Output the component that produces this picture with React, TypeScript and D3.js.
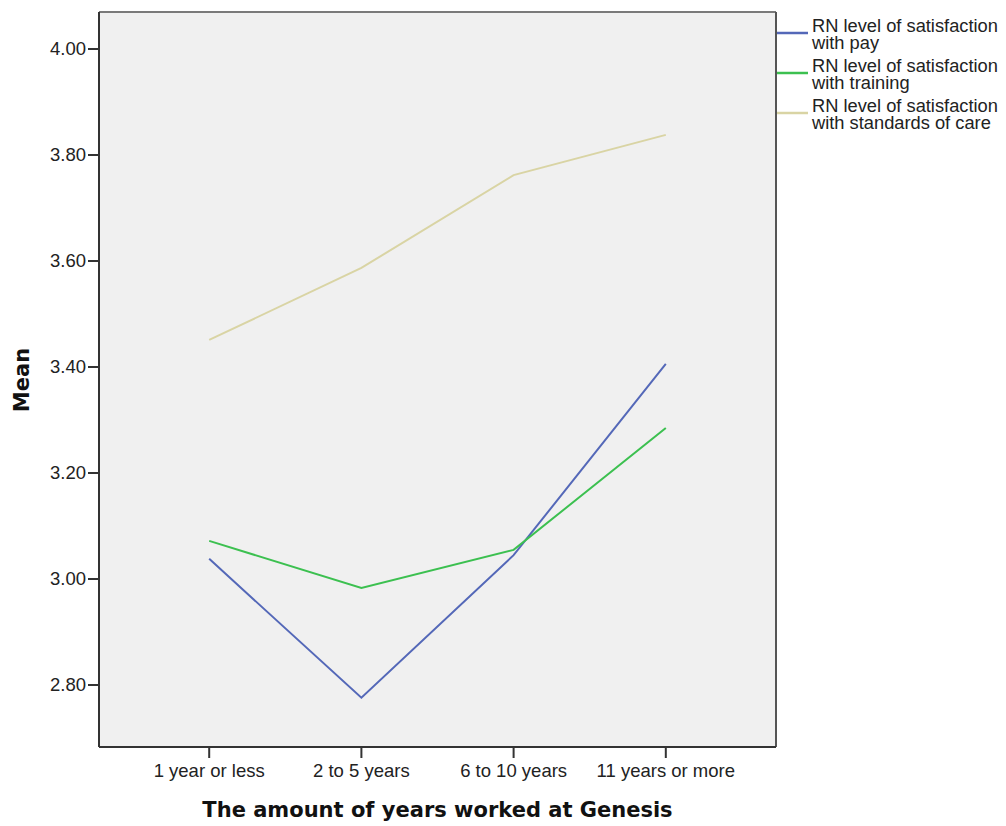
import React from "react";
import * as d3 from "d3";

const categories = ["1 year or less", "2 to 5 years", "6 to 10 years", "11 years or more"];
const payValues = [3.038, 2.776, 3.045, 3.406];
const trainingValues = [3.072, 2.983, 3.055, 3.285];
const careValues = [3.451, 3.587, 3.762, 3.838];
const yTicks = [2.8, 3.0, 3.2, 3.4, 3.6, 3.8, 4.0];
const seriesNames = [
  ["RN level of satisfaction", "with pay"],
  ["RN level of satisfaction", "with training"],
  ["RN level of satisfaction", "with standards of care"],
];
const seriesColors = ["#5468B8", "#3CC050", "#D9D4A4"];

export default function App() {
  const W = 1006, H = 826;
  const left = 99, right = 776, top = 12, bottom = 747;
  const x = d3.scalePoint<string>().domain(categories).range([left, right]).padding(0.724);
  const y = d3.scaleLinear().domain([4 - (bottom - 49) / 530, 4 + 37 / 530]).range([bottom, top]);
  const line = d3.line<number>().x((_, i) => x(categories[i])!).y((v) => y(v));
  const series = [payValues, trainingValues, careValues];
  const font = "'Liberation Sans', Arial, sans-serif";
  return (
    <svg width={W} height={H} style={{ position: "absolute", left: 0, top: 0 }} fontFamily={font}>
      <rect x={0} y={0} width={W} height={H} fill="#fff" />
      <rect x={left} y={top} width={right - left} height={bottom - top} fill="#F0F0F0" />
      <line x1={left} y1={top} x2={right} y2={top} stroke="#7a7a7a" strokeWidth={2} />
      <line x1={right} y1={top} x2={right} y2={bottom} stroke="#555" strokeWidth={2} />
      <line x1={left} y1={top} x2={left} y2={bottom} stroke="#333" strokeWidth={2} />
      <line x1={left} y1={bottom} x2={right} y2={bottom} stroke="#333" strokeWidth={2} />
      {yTicks.map((t) => (
        <g key={t}>
          <line x1={left - 11} x2={left} y1={y(t)} y2={y(t)} stroke="#333" strokeWidth={2} />
          <text x={left - 13} y={y(t)} dy="0.35em" textAnchor="end" fontSize={18.5} fill="#222">
            {t.toFixed(2)}
          </text>
        </g>
      ))}
      {categories.map((c) => (
        <g key={c}>
          <line x1={x(c)} x2={x(c)} y1={bottom} y2={bottom + 11} stroke="#333" strokeWidth={2} />
          <text x={x(c)} y={bottom + 24} dy="0.35em" textAnchor="middle" fontSize={18.5} fill="#222">
            {c}
          </text>
        </g>
      ))}
      {series.map((s, i) => (
        <path key={i} d={line(s)!} fill="none" stroke={seriesColors[i]} strokeWidth={2} />
      ))}
      <text x={(left + right) / 2} y={810} dy="0.35em" textAnchor="middle" fontSize={21}
        fontWeight="bold" fontFamily="'DejaVu Sans', sans-serif" fill="#111">
        The amount of years worked at Genesis
      </text>
      <text transform={`translate(22,380) rotate(-90)`} dy="0.35em" textAnchor="middle" fontSize={21}
        fontWeight="bold" fontFamily="'DejaVu Sans', sans-serif" fill="#111">
        Mean
      </text>
      {seriesNames.map((n, i) => (
        <g key={i}>
          <line x1={777} x2={808} y1={33 + i * 40} y2={33 + i * 40} stroke={seriesColors[i]} strokeWidth={2.5} />
          <text x={812} y={26 + i * 40} dy="0.35em" fontSize={18.3} fill="#222">{n[0]}</text>
          <text x={812} y={43 + i * 40} dy="0.35em" fontSize={18.3} fill="#222">{n[1]}</text>
        </g>
      ))}
    </svg>
  );
}
